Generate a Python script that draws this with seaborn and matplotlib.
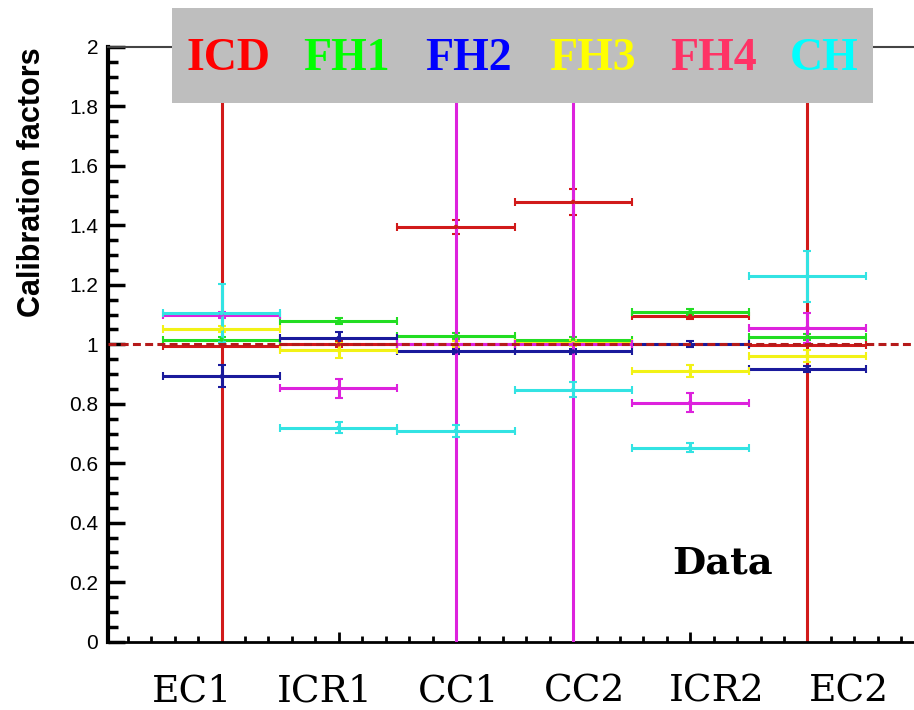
import numpy as np
import pandas as pd
import matplotlib
matplotlib.use("Agg")
import matplotlib.pyplot as plt
from matplotlib.patches import Rectangle
from matplotlib.ticker import MultipleLocator, FixedLocator
import seaborn as sns

# Data
categories = ["EC1", "ICR1", "CC1", "CC2", "ICR2", "EC2"]
detectors = ["ICD", "FH1", "FH2", "FH3", "FH4", "CH"]
bin_pos = [1, 2, 3, 4, 5, 6]
bin_half_width = 0.5

icd_val = [0.995, 1.000, 1.395, 1.479, 1.095, 0.997]
icd_err = [1.5, 0.010, 0.024, 0.045, 0.010, 1.5]
fh1_val = [1.016, 1.078, 1.028, 1.016, 1.109, 1.025]
fh1_err = [0.010, 0.010, 0.010, 0.010, 0.010, 0.010]
fh2_val = [0.892, 1.022, 0.976, 0.976, 1.000, 0.918]
fh2_err = [0.037, 0.020, 0.010, 0.010, 0.010, 0.010]
fh3_val = [1.053, 0.980, 1.000, 1.005, 0.910, 0.961]
fh3_err = [0.010, 0.025, 0.010, 0.010, 0.020, 0.020]
fh4_val = [1.100, 0.853, 1.000, 1.000, 0.804, 1.056]
fh4_err = [0.010, 0.032, 1.5, 1.5, 0.031, 0.050]
ch_val = [1.105, 0.720, 0.710, 0.847, 0.652, 1.229]
ch_err = [0.097, 0.018, 0.020, 0.025, 0.015, 0.085]

y_ticks = [0, 0.2, 0.4, 0.6, 0.8, 1.0, 1.2, 1.4, 1.6, 1.8, 2.0]
y_tick_labels = ["0", "0.2", "0.4", "0.6", "0.8", "1", "1.2", "1.4", "1.6", "1.8", "2"]

line_colors = ["#d11a1a", "#22dd22", "#1a1a9c", "#f2f216", "#dd22dd", "#33e3e3"]
legend_colors = ["#ff0000", "#00ff00", "#0000ff", "#ffff00", "#ff3366", "#00ffff"]

values = [icd_val, fh1_val, fh2_val, fh3_val, fh4_val, ch_val]
errors = [icd_err, fh1_err, fh2_err, fh3_err, fh4_err, ch_err]

rows = []
for det, vals, errs in zip(detectors, values, errors):
    for cat, pos, v, e in zip(categories, bin_pos, vals, errs):
        rows.append({"detector": det, "region": cat, "pos": pos, "value": v, "err": e})
df = pd.DataFrame(rows)

sns.set_theme(style="ticks")
plt.rcParams["font.family"] = ["Liberation Sans", "DejaVu Sans"]
plt.rcParams["text.color"] = "black"
plt.rcParams["axes.labelcolor"] = "black"
plt.rcParams["xtick.color"] = "black"
plt.rcParams["ytick.color"] = "black"

W, H = 914, 710
fig = plt.figure(figsize=(W / 100, H / 100), dpi=100)
ax = fig.add_axes([108 / W, 1 - 641.7 / H, (W - 108) / W, (641.7 - 47) / H])

palette = dict(zip(detectors, line_colors))
for i, det in enumerate(detectors):
    d = df[df["detector"] == det]
    ax.errorbar(d["pos"], d["value"], xerr=bin_half_width, yerr=d["err"], fmt="none",
                ecolor=palette[det], elinewidth=2.2, capsize=3, capthick=1.5, zorder=2 + i)

sns.scatterplot(data=df, x="pos", y="value", hue="detector", palette=palette,
                s=10, linewidth=0, legend=False, ax=ax, zorder=9)

ax.axhline(1.0, color="#b51a1a", lw=2.2, ls=(0, (2.6, 1.4)), zorder=10)

ax.set_xlim(0.03, 6.91)
ax.set_ylim(0, 2)
ax.set_xlabel("")
ax.set_ylabel("")

ax.yaxis.set_major_locator(FixedLocator(y_ticks))
ax.set_yticklabels(y_tick_labels)
ax.yaxis.set_minor_locator(MultipleLocator(0.05))
ax.xaxis.set_major_locator(FixedLocator([2, 5]))
ax.xaxis.set_minor_locator(MultipleLocator(0.2))

ax.tick_params(axis="y", which="major", direction="in", length=12, width=2.5,
               labelsize=15, pad=7, color="black", labelcolor="black")
ax.tick_params(axis="y", which="minor", direction="in", length=7, width=2.5, color="black")
ax.tick_params(axis="x", which="major", direction="in", length=7, width=2,
               labelbottom=False, color="black")
ax.tick_params(axis="x", which="minor", direction="in", length=4, width=2, color="black")

ax.spines["left"].set_linewidth(3)
ax.spines["left"].set_color("black")
ax.spines["bottom"].set_linewidth(2)
ax.spines["bottom"].set_color("black")
ax.spines["top"].set_linewidth(1.5)
ax.spines["top"].set_color("#444444")
ax.spines["right"].set_visible(False)

fig.text(32.5 / W, 1 - 182.5 / H, "Calibration factors", rotation=90, ha="center",
         va="center", fontsize=22, fontweight="bold", color="black")

# region names under the axis
label_x = [192.5, 324.5, 459, 584, 717, 849]
for cat, lx in zip(categories, label_x):
    fig.text(lx / W, 9 / H, cat, ha="center", va="baseline", color="black",
             fontfamily="DejaVu Serif", fontsize=27)

fig.text(672 / W, 1 - 573 / H, "Data", ha="left", va="baseline", color="black",
         fontfamily="DejaVu Serif", fontweight="bold", fontsize=27.6)

# coloured text legend in a grey box
fig.add_artist(Rectangle((172 / W, 1 - 103 / H), 701 / W, 95 / H,
                         transform=fig.transFigure, facecolor="#bebebe",
                         edgecolor="none", zorder=5))
legend_x = [229, 346, 469, 592, 714, 824]
for det, col, lx in zip(detectors, legend_colors, legend_x):
    fig.text(lx / W, 1 - 70.5 / H, det, ha="center", va="baseline", color=col,
             fontfamily="Liberation Serif", fontweight="bold", fontsize=33, zorder=6)

fig.savefig("out.png", dpi=100)
